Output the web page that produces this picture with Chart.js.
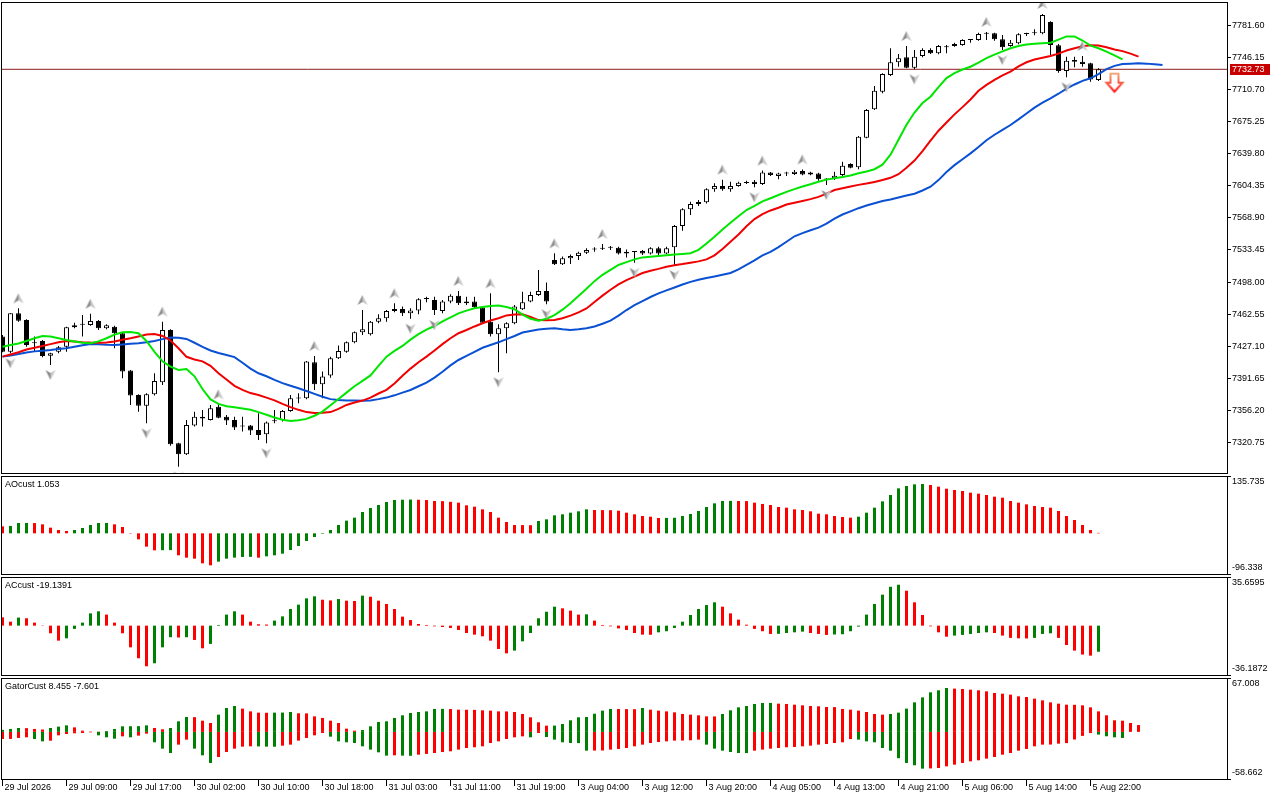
<!DOCTYPE html>
<html>
<head>
<meta charset="utf-8">
<title>Alligator H1</title>
<script src="https://cdn.jsdelivr.net/npm/chart.js@4.4.1/dist/chart.umd.min.js"></script>
<style>
  html, body { margin: 0; padding: 0; background: #fff; }
  #wrap { position: relative; width: 1280px; height: 800px; overflow: hidden; background: #fff; }
  #wrap canvas { position: absolute; left: 0; }
</style>
</head>
<body>
<div id="wrap">
  <canvas id="priceChart" width="1280" height="475" style="top:0px"></canvas>
  <canvas id="aoChart" width="1280" height="101" style="top:475px"></canvas>
  <canvas id="acChart" width="1280" height="101" style="top:576px"></canvas>
  <canvas id="gatorChart" width="1280" height="123" style="top:677px"></canvas>
</div>
<script>
// time axis labels, one every 8 bars
const timeLabels = ['29 Jul 2026', '29 Jul 09:00', '29 Jul 17:00', '30 Jul 02:00', '30 Jul 10:00', '30 Jul 18:00',
  '31 Jul 03:00', '31 Jul 11:00', '31 Jul 19:00', '3 Aug 04:00', '3 Aug 12:00', '3 Aug 20:00',
  '4 Aug 05:00', '4 Aug 13:00', '4 Aug 21:00', '5 Aug 06:00', '5 Aug 14:00', '5 Aug 22:00'];

const priceTicks = [7320.75, 7356.20, 7391.65, 7427.10, 7462.55, 7498.00, 7533.45,
  7568.90, 7604.35, 7639.80, 7675.25, 7710.70, 7746.15, 7781.60];
const priceMin = 7287.3, priceMax = 7807.0;

const openP = [
  7437.8, 7421.2, 7463.5, 7456.2, 7430.4, 7433.0, 7416.8, 7421.2, 7426.7, 7448.1,
  7451.0, 7450.6, 7455.1, 7447.0, 7448.8, 7441.5, 7400.3, 7373.4, 7361.6, 7374.1,
  7387.4, 7445.1, 7320.1, 7307.9, 7339.6, 7349.5, 7345.8, 7360.5, 7349.5, 7345.8,
  7339.2, 7339.6, 7334.8, 7330.0, 7344.4, 7345.8, 7355.8, 7369.4, 7369.7, 7409.5,
  7385.2, 7394.8, 7413.9, 7421.2, 7431.5, 7442.6, 7440.4, 7454.3, 7458.0, 7466.1,
  7468.3, 7463.5, 7466.5, 7479.3, 7478.2, 7466.1, 7476.4, 7483.0, 7474.6, 7476.4,
  7469.8, 7454.3, 7440.4, 7447.0, 7452.5, 7467.9, 7476.4, 7483.8, 7488.2, 7522.4,
  7517.6, 7524.2, 7526.7, 7530.4, 7534.0, 7535.5, 7535.9, 7535.9, 7529.6, 7531.1,
  7532.2, 7529.6, 7535.2, 7529.6, 7536.3, 7559.8, 7578.2, 7584.1, 7586.0, 7600.3,
  7603.9, 7600.3, 7603.9, 7607.4, 7608.7, 7606.2, 7619.0, 7615.0, 7617.8, 7617.2,
  7620.5, 7619.0, 7617.9, 7611.5, 7612.4, 7616.1, 7628.2, 7624.6, 7657.3, 7688.6,
  7708.1, 7726.4, 7740.4, 7745.9, 7734.5, 7747.4, 7754.0, 7750.4, 7757.0, 7758.4,
  7759.5, 7765.1, 7765.1, 7772.1, 7772.4, 7765.8, 7758.4, 7761.4, 7771.7, 7772.4,
  7772.4, 7784.9, 7759.2, 7730.9, 7743.0, 7741.2, 7739.3, 7720.9];
const highP = [
  7439.6, 7463.5, 7469.0, 7456.9, 7437.8, 7434.1, 7420.1, 7427.5, 7448.8, 7453.2,
  7461.7, 7463.0, 7456.2, 7451.4, 7449.9, 7442.2, 7401.0, 7374.1, 7375.2, 7397.3,
  7454.3, 7445.9, 7320.8, 7345.8, 7355.0, 7356.9, 7362.4, 7363.0, 7351.3, 7349.5,
  7349.5, 7340.3, 7353.2, 7344.0, 7356.9, 7356.9, 7373.4, 7375.2, 7410.9, 7416.5,
  7399.2, 7415.7, 7427.9, 7432.3, 7443.3, 7467.2, 7455.1, 7462.4, 7467.2, 7474.6,
  7470.9, 7469.0, 7480.1, 7481.9, 7481.9, 7478.2, 7484.5, 7488.2, 7481.9, 7481.9,
  7470.5, 7485.6, 7451.4, 7453.6, 7472.7, 7487.4, 7487.4, 7511.3, 7497.4, 7529.7,
  7526.1, 7528.5, 7531.5, 7535.2, 7536.3, 7540.0, 7537.7, 7537.0, 7534.0, 7531.9,
  7533.3, 7536.3, 7537.0, 7537.0, 7560.9, 7579.3, 7586.7, 7588.5, 7601.4, 7606.9,
  7611.0, 7608.7, 7608.7, 7609.8, 7610.6, 7621.0, 7619.5, 7618.7, 7619.8, 7621.6,
  7622.3, 7619.8, 7618.7, 7612.4, 7619.8, 7630.8, 7629.0, 7659.1, 7688.9, 7714.3,
  7728.3, 7755.9, 7749.6, 7758.4, 7754.0, 7755.9, 7755.9, 7759.5, 7759.5, 7762.1,
  7765.8, 7766.2, 7773.2, 7774.0, 7773.2, 7770.6, 7765.1, 7772.4, 7773.2, 7776.8,
  7793.8, 7785.7, 7760.6, 7746.7, 7746.7, 7747.4, 7740.0, 7733.8];
const lowP = [
  7420.5, 7419.4, 7454.3, 7426.7, 7421.2, 7415.0, 7406.5, 7419.4, 7421.2, 7447.0,
  7437.8, 7449.9, 7445.1, 7445.9, 7424.9, 7391.8, 7362.4, 7355.0, 7342.1, 7372.7,
  7384.4, 7317.5, 7294.3, 7307.2, 7338.5, 7338.5, 7345.1, 7347.7, 7340.3, 7334.8,
  7333.0, 7329.3, 7323.8, 7320.1, 7342.1, 7344.0, 7355.0, 7364.2, 7368.6, 7378.9,
  7369.7, 7392.5, 7413.1, 7420.1, 7430.4, 7439.6, 7438.9, 7452.5, 7454.3, 7464.6,
  7460.5, 7457.5, 7462.4, 7475.7, 7461.5, 7463.5, 7474.6, 7472.7, 7472.7, 7469.0,
  7452.1, 7437.8, 7398.4, 7419.4, 7451.4, 7467.2, 7475.7, 7482.7, 7473.5, 7516.9,
  7516.9, 7517.9, 7522.3, 7528.9, 7531.5, 7533.3, 7533.3, 7528.5, 7525.2, 7519.3,
  7527.8, 7528.5, 7527.8, 7528.9, 7516.8, 7554.7, 7572.0, 7581.9, 7584.8, 7597.7,
  7598.8, 7597.7, 7603.2, 7606.2, 7602.5, 7605.1, 7615.0, 7611.3, 7615.0, 7616.1,
  7615.7, 7615.7, 7609.8, 7605.1, 7610.6, 7614.3, 7623.5, 7622.4, 7656.6, 7687.8,
  7706.2, 7725.3, 7735.6, 7733.8, 7732.7, 7745.9, 7749.6, 7749.3, 7750.4, 7757.7,
  7758.8, 7762.1, 7764.3, 7765.1, 7764.3, 7754.0, 7757.7, 7760.3, 7769.5, 7770.2,
  7771.3, 7748.5, 7729.0, 7723.9, 7734.9, 7735.6, 7719.1, 7719.8];
const closeP = [
  7421.2, 7463.5, 7455.4, 7428.6, 7431.2, 7416.4, 7419.4, 7426.0, 7448.1, 7450.3,
  7451.4, 7455.1, 7447.0, 7450.3, 7441.5, 7399.2, 7372.7, 7361.6, 7374.1, 7388.9,
  7445.1, 7319.0, 7307.9, 7340.3, 7349.5, 7347.3, 7358.7, 7348.4, 7345.1, 7337.4,
  7338.5, 7334.1, 7329.3, 7342.9, 7344.7, 7355.8, 7369.7, 7370.1, 7410.2, 7385.2,
  7393.7, 7413.9, 7422.0, 7431.5, 7442.6, 7445.9, 7454.3, 7458.0, 7466.1, 7468.3,
  7463.5, 7466.5, 7479.0, 7479.7, 7467.2, 7476.4, 7483.0, 7474.6, 7476.4, 7470.2,
  7453.2, 7440.4, 7447.0, 7452.5, 7470.9, 7475.7, 7483.8, 7488.2, 7476.4, 7517.6,
  7524.2, 7526.7, 7530.4, 7533.3, 7534.4, 7534.8, 7536.2, 7529.6, 7531.5, 7531.5,
  7529.6, 7535.2, 7529.6, 7535.2, 7559.8, 7578.2, 7584.1, 7586.3, 7600.3, 7603.9,
  7600.3, 7603.9, 7607.6, 7607.8, 7606.2, 7619.0, 7616.1, 7617.9, 7617.9, 7619.8,
  7616.8, 7616.8, 7611.3, 7611.2, 7615.3, 7626.4, 7624.2, 7658.4, 7687.8, 7709.2,
  7727.5, 7740.4, 7744.8, 7734.5, 7746.7, 7754.0, 7750.4, 7758.4, 7757.3, 7760.6,
  7765.1, 7765.4, 7771.7, 7772.4, 7765.8, 7757.0, 7762.1, 7771.3, 7772.1, 7772.8,
  7792.7, 7759.5, 7730.9, 7742.3, 7741.2, 7738.6, 7721.6, 7732.73];

// alligator lines (jaw shifted 8, teeth 5, lips 3 bars ahead)
const jaw = [
  7415.7, 7417.0, 7418.5, 7420.3, 7421.5, 7422.3, 7423.0, 7424.0, 7424.9, 7426.5,
  7428.2, 7429.7, 7429.4, 7428.8, 7428.6, 7429.2, 7429.8, 7430.4, 7431.6, 7433.0,
  7435.0, 7436.7, 7436.4, 7435.2, 7431.0, 7426.5, 7422.5, 7419.8, 7417.5, 7415.2,
  7409.0, 7402.5, 7397.3, 7394.0, 7390.0, 7386.5, 7383.6, 7380.8, 7377.8, 7374.6,
  7371.5, 7368.8, 7367.8, 7367.3, 7367.2, 7367.0, 7367.4, 7368.8, 7370.5, 7373.0,
  7376.0, 7378.9, 7383.0, 7387.0, 7392.5, 7399.0, 7406.0, 7412.0, 7416.5, 7421.0,
  7425.5, 7428.5, 7431.5, 7435.0, 7438.5, 7442.3, 7444.0, 7445.6, 7446.4, 7446.9,
  7445.8, 7445.2, 7445.8, 7447.0, 7449.0, 7452.0, 7455.5, 7461.0, 7467.1, 7472.5,
  7477.0, 7481.5, 7485.5, 7488.8, 7492.0, 7495.3, 7498.2, 7500.5, 7502.5, 7504.2,
  7506.0, 7508.0, 7512.0, 7517.0, 7522.0, 7527.5, 7531.2, 7536.5, 7542.5, 7548.5,
  7552.0, 7555.2, 7558.0, 7562.5, 7568.0, 7572.5, 7576.0, 7579.5, 7582.5, 7585.0,
  7587.5, 7589.0, 7591.3, 7593.5, 7595.5, 7599.0, 7603.2, 7610.5, 7619.5, 7627.0,
  7633.5, 7640.0, 7647.0, 7654.5, 7660.5, 7666.0, 7671.3, 7677.5, 7684.0, 7690.5,
  7696.0, 7700.7, 7705.8, 7711.5, 7716.0, 7720.0, 7722.8, 7727.5, 7733.0, 7736.5,
  7738.5, 7739.0, 7739.3, 7739.0, 7738.2, 7737.5];
const teeth = [
  7415.7, 7418.0, 7420.5, 7423.5, 7425.5, 7427.5, 7429.5, 7431.5, 7433.0, 7432.5,
  7431.6, 7431.2, 7431.0, 7431.2, 7432.5, 7434.3, 7435.9, 7438.0, 7440.2, 7440.6,
  7438.5, 7433.5, 7425.0, 7415.5, 7412.5, 7410.5, 7405.5, 7397.3, 7390.5, 7383.5,
  7379.0, 7375.5, 7373.4, 7370.5, 7367.5, 7363.5, 7360.0, 7357.0, 7354.5, 7353.5,
  7353.7, 7354.5, 7358.0, 7362.4, 7365.0, 7367.2, 7370.5, 7375.0, 7379.0, 7386.0,
  7394.5, 7402.5, 7409.5, 7415.7, 7422.5, 7429.5, 7436.0, 7441.5, 7445.1, 7449.0,
  7452.5, 7455.5, 7458.0, 7461.2, 7462.2, 7462.4, 7459.5, 7456.0, 7455.8, 7456.2,
  7458.0, 7461.0, 7464.5, 7468.9, 7476.0, 7483.0, 7489.5, 7495.5, 7500.2, 7504.0,
  7508.0, 7510.5, 7512.5, 7514.8, 7516.5, 7517.8, 7519.3, 7520.8, 7523.0, 7527.5,
  7534.5, 7542.5, 7550.5, 7559.5, 7567.5, 7573.0, 7577.0, 7580.0, 7583.5, 7585.5,
  7587.5, 7589.5, 7592.0, 7595.5, 7599.5, 7601.5, 7603.5, 7605.2, 7606.7, 7608.5,
  7610.5, 7613.0, 7617.0, 7624.0, 7632.0, 7642.5, 7654.0, 7665.0, 7674.0, 7683.0,
  7691.0, 7699.5, 7709.0, 7715.5, 7721.0, 7726.0, 7730.1, 7736.0, 7740.5, 7743.5,
  7745.5, 7747.4, 7750.0, 7753.5, 7756.0, 7758.2, 7759.3, 7759.0, 7757.0, 7754.5,
  7752.8, 7750.0, 7746.7];
const lips = [
  7426.7, 7428.5, 7430.2, 7433.0, 7436.0, 7438.5, 7438.0, 7436.0, 7434.1, 7432.5,
  7431.0, 7430.4, 7432.5, 7436.0, 7440.0, 7442.6, 7442.8, 7441.5, 7433.0, 7421.0,
  7410.5, 7404.7, 7401.0, 7402.0, 7394.0, 7380.0, 7368.5, 7363.5, 7361.0, 7359.8,
  7358.5, 7357.0, 7354.5, 7351.5, 7348.5, 7346.0, 7344.8, 7345.5, 7347.0, 7350.5,
  7355.0, 7362.0, 7369.0, 7376.0, 7383.0, 7389.0, 7395.0, 7405.5, 7415.7, 7422.0,
  7427.5, 7434.5, 7440.5, 7445.5, 7449.5, 7454.5, 7459.0, 7463.5, 7466.5, 7469.0,
  7470.5, 7471.5, 7472.0, 7470.5, 7468.0, 7462.0, 7457.5, 7455.2, 7457.5, 7461.5,
  7467.5, 7474.5, 7482.5, 7490.5, 7499.0, 7506.0, 7511.5, 7516.8, 7520.0, 7523.0,
  7525.2, 7526.0, 7526.8, 7527.6, 7528.3, 7529.0, 7529.8, 7533.5, 7540.5, 7548.0,
  7556.0, 7563.5, 7570.5, 7577.5, 7582.0, 7587.0, 7590.5, 7594.0, 7597.5, 7600.5,
  7603.5, 7606.0, 7608.7, 7611.0, 7612.6, 7614.0, 7615.5, 7618.0, 7620.0, 7622.5,
  7627.5, 7638.5, 7655.0, 7671.5, 7685.0, 7695.5, 7702.5, 7713.0, 7723.0, 7728.5,
  7732.5, 7735.6, 7740.0, 7745.0, 7749.0, 7752.5, 7755.9, 7758.5, 7760.0, 7761.0,
  7761.5, 7762.1, 7765.5, 7769.0, 7769.0, 7764.5, 7758.8, 7756.0, 7752.2, 7748.0,
  7743.7];

// fractal bars and the sell signal
const upFractals = [2, 11, 20, 27, 39, 45, 49, 57, 61, 69, 75, 90, 95, 100, 113, 123, 130, 135];
const downFractals = [1, 6, 18, 22, 33, 51, 54, 62, 68, 79, 84, 94, 103, 114, 125, 133];
const signalBar = [139];
const signalPrice = [7718.0];

// AO
const aoMin = -96.338, aoMax = 135.735;
const aoValues = [
  16.5, 17.5, 24.4, 24.6, 24.3, 21.3, 13.4, 7.9, 5.5, 7.9,
  12.6, 19.7, 24.4, 24.6, 21.3, 14.9, -0.8, -14.3, -31.6, -40.3,
  -40.0, -39.8, -52.1, -57.7, -60.0, -71.1, -75.8, -67.1, -60.0, -57.6,
  -56.0, -55.8, -57.7, -54.5, -52.1, -48.2, -39.5, -30.0, -18.2, -8.7,
  -1.2, 7.9, 19.7, 30.0, 37.1, 50.5, 60.0, 67.1, 74.2, 78.9,
  79.6, 80.0, 79.5, 78.8, 76.5, 76.2, 74.6, 72.6, 66.3, 63.1,
  56.8, 50.5, 37.1, 26.8, 19.7, 19.5, 19.3, 29.2, 33.1, 42.6,
  45.0, 48.9, 52.1, 56.8, 55.2, 55.0, 54.8, 53.6, 48.9, 45.0,
  41.0, 39.4, 36.3, 36.5, 36.8, 41.0, 45.7, 52.8, 62.3, 71.0,
  76.5, 76.8, 76.6, 76.3, 72.6, 69.4, 67.1, 62.3, 60.7, 56.8,
  55.2, 52.1, 46.5, 45.0, 41.0, 38.6, 37.1, 39.4, 48.9, 60.7,
  75.7, 90.7, 106.5, 112.0, 116.0, 116.8, 114.4, 110.5, 105.7, 102.6,
  100.2, 96.3, 93.9, 90.7, 86.8, 84.4, 76.5, 72.6, 68.6, 64.7,
  62.3, 60.7, 52.8, 41.0, 31.6, 19.7, 7.9, 1.053];

// AC
const acMin = -36.1872, acMax = 35.6595;
const acValues = [
  6.1, 2.9, 5.9, 5.4, 2.2, 0.2, -5.6, -11.0, -9.3, -2.4,
  2.2, 9.0, 10.5, 8.1, 2.2, -5.6, -15.9, -23.9, -29.8, -27.6,
  -15.9, -8.5, -8.7, -8.5, -10.5, -16.6, -13.4, 0.5, 8.1, 10.5,
  8.1, 2.9, 1.0, 0.8, 3.7, 6.8, 12.2, 15.4, 20.0, 21.5,
  19.0, 18.5, 19.5, 18.3, 18.1, 22.0, 21.2, 18.3, 15.9, 12.2,
  6.6, 4.1, 1.2, 0.5, -0.5, -1.0, -1.7, -3.2, -5.4, -6.6,
  -7.8, -11.0, -17.1, -20.3, -18.3, -11.5, -5.4, 5.4, 10.2, 13.9,
  12.7, 11.0, 8.1, 8.3, 3.7, 0.5, -0.5, -2.0, -3.2, -5.4,
  -6.6, -6.7, -4.9, -4.1, -1.7, 2.9, 7.8, 12.2, 15.1, 17.1,
  13.9, 9.0, 4.4, 0.7, -2.4, -4.1, -6.1, -6.0, -5.4, -4.9,
  -4.4, -5.4, -6.1, -6.8, -6.5, -6.3, -4.1, -0.7, 8.1, 15.9,
  22.7, 28.5, 30.0, 25.6, 17.1, 7.8, -0.5, -4.9, -8.1, -7.3,
  -6.8, -6.1, -5.4, -4.9, -5.4, -7.3, -9.0, -9.3, -9.4, -9.0,
  -6.1, -5.6, -9.0, -14.2, -18.3, -21.2, -22.0, -19.1391];

// Gator
const gatorMin = -58.662, gatorMax = 67.008;
const gatorUp = [
  2.5, 3.6, 4.8, 4.6, 3.6, 2.9, 4.8, 6.5, 8.1, 5.6,
  1.5, 0.3, 0.2, 1.0, 3.6, 6.9, 7.0, 7.1, 8.1, 4.8,
  3.2, 4.8, 13.1, 18.5, 18.3, 13.9, 11.0, 21.4, 29.7, 32.2,
  28.9, 25.5, 23.9, 23.8, 23.9, 24.0, 24.7, 23.1, 23.0, 19.3,
  17.3, 13.9, 11.0, 4.0, 1.5, 2.3, 6.9, 12.3, 13.1, 17.3,
  20.6, 23.5, 24.7, 25.5, 28.5, 28.6, 28.4, 27.6, 27.5, 27.4,
  26.8, 26.4, 25.5, 25.4, 24.7, 22.2, 18.1, 11.9, 7.7, 7.8,
  9.8, 14.4, 18.1, 18.5, 22.6, 26.4, 28.5, 28.4, 28.3, 28.2,
  29.7, 27.6, 26.4, 25.5, 24.3, 22.2, 21.4, 20.6, 19.3, 19.2,
  22.2, 26.8, 30.5, 32.2, 34.7, 35.9, 36.0, 35.1, 34.7, 33.8,
  33.0, 32.2, 31.8, 30.9, 30.8, 28.5, 27.6, 26.4, 24.7, 22.2,
  21.4, 22.2, 23.9, 28.9, 36.7, 42.9, 49.2, 51.7, 54.6, 53.8,
  53.3, 52.5, 51.7, 50.4, 48.4, 47.5, 46.3, 44.2, 43.4, 41.3,
  39.2, 36.7, 35.1, 33.8, 33.7, 33.0, 30.5, 25.5, 20.6, 14.4,
  13.9, 11.0, 8.455];
const gatorDown = [
  -8.9, -8.8, -7.6, -6.8, -8.9, -11.8, -11.0, -4.3, -2.7, -1.8,
  -1.4, -0.6, -4.3, -6.8, -8.5, -5.6, -6.8, -4.7, -2.2, -13.0,
  -20.9, -26.3, -15.9, -9.7, -20.9, -29.2, -38.7, -31.3, -25.1, -20.9,
  -18.4, -18.0, -18.1, -18.4, -18.5, -17.2, -15.9, -10.9, -7.6, -4.3,
  -1.4, -6.0, -11.8, -13.0, -13.9, -18.0, -22.1, -25.5, -29.6, -29.2,
  -29.6, -29.8, -28.4, -27.5, -26.3, -25.1, -24.2, -22.1, -20.1, -19.2,
  -18.0, -13.9, -11.8, -8.9, -6.8, -5.6, -6.8, -1.4, -6.4, -9.7,
  -13.0, -13.9, -14.0, -23.4, -23.3, -23.2, -22.1, -21.3, -20.1, -18.0,
  -15.9, -13.9, -12.6, -11.8, -10.9, -10.8, -10.5, -9.7, -15.9, -20.9,
  -23.4, -25.1, -26.3, -26.4, -23.4, -22.1, -20.9, -20.1, -19.2, -18.8,
  -18.0, -17.2, -15.9, -15.1, -13.9, -13.0, -9.0, -9.7, -11.8, -13.0,
  -20.1, -23.4, -32.8, -38.7, -41.6, -45.8, -45.5, -45.0, -42.9, -40.8,
  -38.7, -36.7, -35.4, -33.3, -31.3, -28.4, -26.3, -23.4, -21.3, -18.0,
  -15.9, -15.8, -14.7, -14.0, -9.5, -5.0, -1.5, -3.4, -5.5, -6.8,
  -7.601];

// ---- styling ----
const GREEN = '#008000';
const RED = '#ff0000';
const X_MIN = -0.1875;
const X_MAX = 153.0625;
const AXIS_W = 53;
const FONT_FAMILY = '"Liberation Sans", Arial, sans-serif';

Chart.defaults.font.family = FONT_FAMILY;
Chart.defaults.font.size = 9;
Chart.defaults.color = '#000';

const barIdx = closeP.map((_, i) => i);
const lastPrice = closeP[closeP.length - 1];

function xyPoints(vals) {
  return vals.map((v, i) => ({ x: i, y: v }));
}

// green when the (absolute) value grows, red otherwise
function trendColors(vals, firstColor, useAbs) {
  return vals.map((v, i) => {
    if (i === 0) return firstColor;
    const a = useAbs ? Math.abs(v) : v;
    const b = useAbs ? Math.abs(vals[i - 1]) : vals[i - 1];
    return a > b ? GREEN : RED;
  });
}

function fractalIcon(up) {
  const c = document.createElement('canvas');
  c.width = 12; c.height = 34;
  const g = c.getContext('2d');
  g.translate(6, up ? 7 : 27);
  if (!up) g.scale(1, -1);
  g.beginPath(); g.moveTo(0, -5); g.lineTo(-5, 5); g.lineTo(0, 2); g.closePath();
  g.fillStyle = '#8c8c8c'; g.fill();
  g.beginPath(); g.moveTo(0, -5); g.lineTo(5, 5); g.lineTo(0, 2); g.closePath();
  g.fillStyle = '#c6c6c6'; g.fill();
  return c;
}

function sellIcon() {
  const c = document.createElement('canvas');
  c.width = 22; c.height = 24;
  const g = c.getContext('2d');
  g.translate(11, 12);
  g.beginPath();
  g.moveTo(-4, -9); g.lineTo(4, -9); g.lineTo(4, 0); g.lineTo(8, 0);
  g.lineTo(0, 9); g.lineTo(-8, 0); g.lineTo(-4, 0); g.closePath();
  g.fillStyle = '#fff'; g.fill();
  const grad = g.createLinearGradient(0, -9, 0, 9);
  grad.addColorStop(0, '#f4a878');
  grad.addColorStop(1, '#ff1010');
  g.strokeStyle = grad; g.lineWidth = 2; g.lineJoin = 'miter'; g.stroke();
  return c;
}

const framePlugin = {
  id: 'frame',
  afterDraw(chart) {
    const { ctx, chartArea: a } = chart;
    ctx.save();
    ctx.strokeStyle = '#000';
    ctx.lineWidth = 1;
    ctx.strokeRect(a.left + 0.5, a.top + 0.5, a.right - a.left, a.bottom - a.top);
    ctx.restore();
  }
};

const paneLabelPlugin = {
  id: 'paneLabel',
  afterDraw(chart, args, opts) {
    if (!opts.text) return;
    const { ctx, chartArea: a } = chart;
    ctx.save();
    ctx.font = '9px ' + FONT_FAMILY;
    ctx.fillStyle = '#000';
    ctx.textBaseline = 'top';
    ctx.fillText(opts.text, a.left + 4, a.top + 4);
    ctx.restore();
  }
};

const priceTagPlugin = {
  id: 'priceTag',
  afterDraw(chart) {
    const { ctx, chartArea: a } = chart;
    const y = Math.round(chart.scales.y.getPixelForValue(lastPrice));
    ctx.save();
    ctx.fillStyle = '#c80000';
    ctx.fillRect(a.right + 3, y - 5, 40, 11);
    ctx.fillStyle = '#fff';
    ctx.font = '9px ' + FONT_FAMILY;
    ctx.textBaseline = 'middle';
    ctx.fillText(lastPrice.toFixed(2), a.right + 5, y + 1);
    ctx.restore();
  }
};

function xAxis(show) {
  const ax = {
    type: 'linear', min: X_MIN, max: X_MAX, offset: false, display: show,
    grid: { offset: false, drawOnChartArea: false, tickLength: 7, tickColor: '#000' },
    border: { display: false }
  };
  if (show) {
    ax.afterFit = s => { s.height = 21; s.paddingLeft = 0; s.paddingRight = 0; };
    ax.afterBuildTicks = s => { s.ticks = timeLabels.map((_, k) => ({ value: k * 8 })); };
    ax.ticks = {
      autoSkip: false, maxRotation: 0, minRotation: 0, align: 'start',
      labelOffset: 2, padding: -4, callback: (v, i) => timeLabels[i]
    };
  }
  return ax;
}

function paneY(min, max, decimals, paneH) {
  const inset = (max - min) / paneH * 6;
  const vals = [max, max - inset, min + inset, min];
  const labels = ['', max.toFixed(decimals), min.toFixed(decimals), ''];
  return {
    position: 'right', min: min, max: max,
    afterFit(s) { s.width = AXIS_W; s.paddingTop = 0; s.paddingBottom = 0; },
    afterBuildTicks(s) { s.ticks = vals.map(v => ({ value: v })); },
    ticks: { autoSkip: false, padding: 1, callback: (v, i) => labels[i] },
    grid: {
      drawOnChartArea: false, tickLength: 4,
      tickColor: c => labels[c.index] === '' ? '#000' : 'rgba(0,0,0,0)'
    },
    border: { display: false }
  };
}

function baseOptions(padTop, padBottom, scales, label) {
  return {
    responsive: false,
    animation: false,
    events: [],
    layout: { autoPadding: false, padding: { left: 1, right: 0, top: padTop, bottom: padBottom } },
    scales: scales,
    plugins: {
      legend: { display: false },
      tooltip: { enabled: false },
      paneLabel: { text: label }
    }
  };
}

function histogram(vals, colors) {
  return {
    type: 'bar',
    data: xyPoints(vals),
    backgroundColor: colors,
    borderWidth: 0,
    barThickness: 3,
    grouped: false,
    inflateAmount: 0
  };
}

function lineSet(vals, color, order) {
  return {
    type: 'line', data: xyPoints(vals), borderColor: color, borderWidth: 2,
    pointRadius: 0, tension: 0, order: order
  };
}

// ---- price pane ----
new Chart(document.getElementById('priceChart'), {
  type: 'bar',
  data: {
    datasets: [
      {
        type: 'line', data: [{ x: X_MIN, y: lastPrice }, { x: X_MAX, y: lastPrice }],
        borderColor: '#8e1c1c', borderWidth: 1, pointRadius: 0, order: 10
      },
      {
        type: 'bar', data: barIdx.map(i => ({ x: i, y: [lowP[i], highP[i]] })),
        backgroundColor: '#000', borderWidth: 0, barThickness: 1, grouped: false,
        inflateAmount: 0, order: 6
      },
      {
        type: 'bar', data: barIdx.map(i => ({ x: i, y: [openP[i], closeP[i]] })),
        backgroundColor: barIdx.map(i => closeP[i] >= openP[i] ? '#fff' : '#000'),
        borderColor: '#000', borderWidth: 1, borderSkipped: false, barThickness: 5,
        grouped: false, minBarLength: 1, inflateAmount: 0, order: 5
      },
      lineSet(jaw, '#0a50d2', 4),
      lineSet(teeth, '#f00000', 3),
      lineSet(lips, '#00e600', 2),
      {
        type: 'line', showLine: false, data: upFractals.map(i => ({ x: i, y: highP[i] })),
        pointStyle: fractalIcon(true), pointRadius: 5, order: 1
      },
      {
        type: 'line', showLine: false, data: downFractals.map(i => ({ x: i, y: lowP[i] })),
        pointStyle: fractalIcon(false), pointRadius: 5, order: 1
      },
      {
        type: 'line', showLine: false, data: signalBar.map((b, k) => ({ x: b, y: signalPrice[k] })),
        pointStyle: sellIcon(), pointRadius: 5, order: 0
      }
    ]
  },
  options: baseOptions(2, 2, {
    x: xAxis(false),
    y: {
      position: 'right', min: priceMin, max: priceMax,
      afterFit(s) { s.width = AXIS_W; s.paddingTop = 0; s.paddingBottom = 0; },
      afterBuildTicks(s) { s.ticks = priceTicks.map(v => ({ value: v })); },
      ticks: { autoSkip: false, padding: 1, callback: v => v.toFixed(2) },
      grid: { drawOnChartArea: false, tickLength: 4, tickColor: '#000' },
      border: { display: false }
    }
  }, ''),
  plugins: [framePlugin, priceTagPlugin]
});

// ---- AO pane ----
new Chart(document.getElementById('aoChart'), {
  type: 'bar',
  data: { datasets: [histogram(aoValues, trendColors(aoValues, RED, false))] },
  options: baseOptions(1, 2, { x: xAxis(false), y: paneY(aoMin, aoMax, 3, 98) },
    'AOcust ' + aoValues[aoValues.length - 1]),
  plugins: [framePlugin, paneLabelPlugin]
});

// ---- AC pane ----
new Chart(document.getElementById('acChart'), {
  type: 'bar',
  data: { datasets: [histogram(acValues, trendColors(acValues, RED, false))] },
  options: baseOptions(1, 2, { x: xAxis(false), y: paneY(acMin, acMax, 4, 98) },
    'ACcust ' + acValues[acValues.length - 1]),
  plugins: [framePlugin, paneLabelPlugin]
});

// ---- Gator pane ----
new Chart(document.getElementById('gatorChart'), {
  type: 'bar',
  data: {
    datasets: [
      histogram(gatorUp, trendColors(gatorUp, GREEN, true)),
      histogram(gatorDown, trendColors(gatorDown, RED, true))
    ]
  },
  options: baseOptions(1, 0, { x: xAxis(true), y: paneY(gatorMin, gatorMax, 3, 101) },
    'GatorCust ' + gatorUp[gatorUp.length - 1] + ' ' + gatorDown[gatorDown.length - 1]),
  plugins: [framePlugin, paneLabelPlugin]
});
</script>
</body>
</html>
